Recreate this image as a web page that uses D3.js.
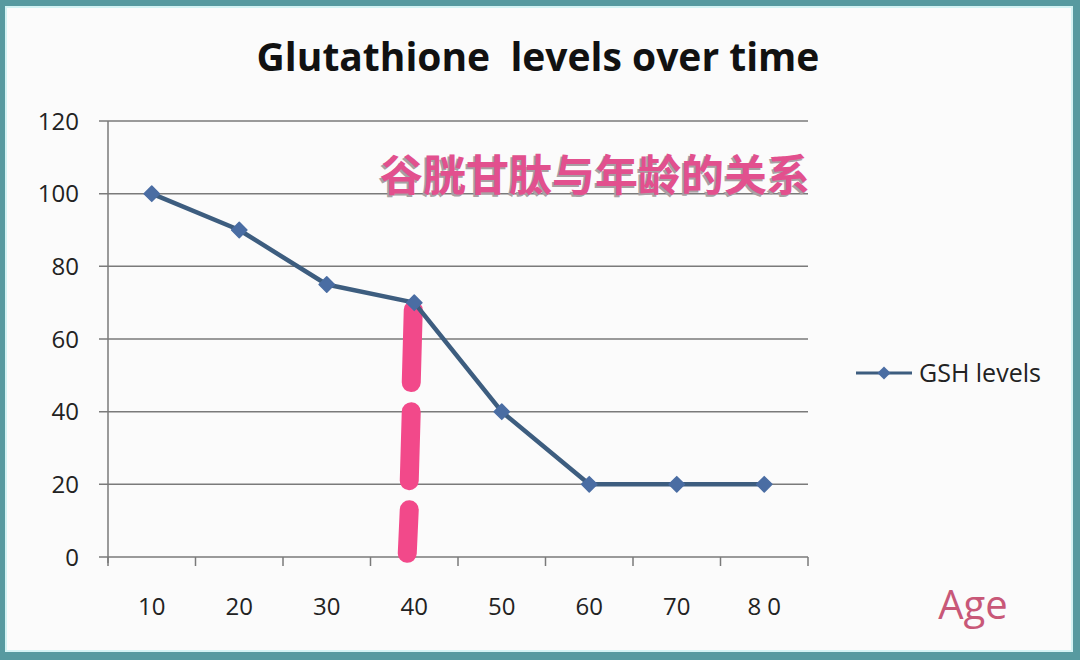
<!DOCTYPE html>
<html>
<head>
<meta charset="utf-8">
<script src="https://cdn.jsdelivr.net/npm/d3@7"></script>
<style>
  html, body { margin: 0; padding: 0; background: #fff; }
  svg { display: block; }
</style>
</head>
<body>
<div id="chart"></div>
<script>
// chart data
const ages = ["10", "20", "30", "40", "50", "60", "70", "80"];
const ageLabels = ["10", "20", "30", "40", "50", "60", "70", "8 0"];
const gshLevels = [100, 90, 75, 70, 40, 20, 20, 20];
const yTicks = [0, 20, 40, 60, 80, 100, 120];
// hand-drawn pink mark at age 40, segments in value units
const markAge = "40";
const markSegments = [[68, 48], [40, 21], [13, 1]];

const width = 1080, height = 660;
const margin = { top: 121, right: 272, bottom: 103, left: 108 };

const svg = d3.select("#chart")
    .append("svg")
    .attr("width", width)
    .attr("height", height);

// background + frame
svg.append("rect")
    .attr("x", 0).attr("y", 0)
    .attr("width", width).attr("height", height)
    .attr("fill", "#579aa0");
svg.append("rect")
    .attr("x", 5).attr("y", 6)
    .attr("width", width - 12).attr("height", height - 14)
    .attr("fill", "#d4f3f4");
svg.append("rect")
    .attr("x", 7).attr("y", 8)
    .attr("width", width - 16).attr("height", height - 18)
    .attr("fill", "#fbfbfb");

const x = d3.scaleBand()
    .domain(ages)
    .range([margin.left, width - margin.right]);

const y = d3.scaleLinear()
    .domain([0, 120])
    .range([height - margin.bottom, margin.top]);

// gridlines
svg.append("g")
    .selectAll("line")
    .data(yTicks)
    .enter()
    .append("line")
    .attr("x1", margin.left - 9)
    .attr("x2", width - margin.right)
    .attr("y1", d => y(d))
    .attr("y2", d => y(d))
    .attr("stroke", "#7a7a7a")
    .attr("stroke-width", 1.5);

// y labels
svg.append("g")
    .selectAll("text")
    .data(yTicks)
    .enter()
    .append("text")
    .attr("x", 79)
    .attr("y", d => y(d))
    .attr("dy", "0.36em")
    .attr("text-anchor", "end")
    .attr("font-family", "'Open Sans', sans-serif")
    .attr("font-size", 24)
    .attr("fill", "#222")
    .text(d => d);

// y axis line
svg.append("line")
    .attr("x1", margin.left).attr("x2", margin.left)
    .attr("y1", y(120)).attr("y2", y(0) + 6)
    .attr("stroke", "#7a7a7a")
    .attr("stroke-width", 1.5);

// x ticks at band boundaries
const bounds = ages.map(a => x(a)).concat([x(ages[ages.length - 1]) + x.bandwidth()]);
svg.append("g")
    .selectAll("line")
    .data(bounds)
    .enter()
    .append("line")
    .attr("x1", d => d).attr("x2", d => d)
    .attr("y1", y(0)).attr("y2", y(0) + 9)
    .attr("stroke", "#7a7a7a")
    .attr("stroke-width", 1.5);

// x labels
svg.append("g")
    .selectAll("text")
    .data(ages)
    .enter()
    .append("text")
    .attr("x", d => x(d) + x.bandwidth() / 2)
    .attr("y", 615)
    .attr("text-anchor", "middle")
    .attr("font-family", "'Open Sans', sans-serif")
    .attr("font-size", 24)
    .attr("fill", "#222")
    .text((d, i) => ageLabels[i]);

// pink annotation title
svg.append("text")
    .attr("x", 810)
    .attr("y", 191)
    .attr("text-anchor", "end")
    .attr("font-family", "'Noto Sans CJK SC', sans-serif")
    .attr("font-weight", "bold")
    .attr("font-size", 43)
    .attr("fill", "#a8a0a4")
    .attr("transform", "translate(-2,2)")
    .text("谷胱甘肽与年龄的关系");
svg.append("text")
    .attr("x", 810)
    .attr("y", 191)
    .attr("text-anchor", "end")
    .attr("font-family", "'Noto Sans CJK SC', sans-serif")
    .attr("font-weight", "bold")
    .attr("font-size", 43)
    .attr("fill", "#e2508e")
    .text("谷胱甘肽与年龄的关系");

// pink hand mark
const markX = x(markAge) + x.bandwidth() / 2 - 3;
svg.append("g")
    .selectAll("line")
    .data(markSegments)
    .enter()
    .append("line")
    .attr("x1", (d, i) => markX + 2 - i * 2)
    .attr("x2", (d, i) => markX - i * 2)
    .attr("y1", d => y(d[0]))
    .attr("y2", d => y(d[1]))
    .attr("stroke", "#f2498a")
    .attr("stroke-width", 19)
    .attr("stroke-linecap", "round");

// series line
const line = d3.line()
    .x((d, i) => x(ages[i]) + x.bandwidth() / 2)
    .y(d => y(d));

svg.append("path")
    .datum(gshLevels)
    .attr("d", line)
    .attr("fill", "none")
    .attr("stroke", "#3d5d7f")
    .attr("stroke-width", 4.5)
    .attr("stroke-linejoin", "round");

const diamond = d3.symbol().type(d3.symbolDiamond2).size(150);

svg.append("g")
    .selectAll("path")
    .data(gshLevels)
    .enter()
    .append("path")
    .attr("d", diamond)
    .attr("transform", (d, i) => "translate(" + (x(ages[i]) + x.bandwidth() / 2) + "," + y(d) + ")")
    .attr("fill", "#4a6da3")
    .attr("stroke", "#4a6da3")
    .attr("stroke-width", 1.5)
    .attr("stroke-linejoin", "round");

// legend
svg.append("line")
    .attr("x1", 856).attr("x2", 912)
    .attr("y1", 373).attr("y2", 373)
    .attr("stroke", "#3d5d7f")
    .attr("stroke-width", 3);
svg.append("path")
    .attr("d", d3.symbol().type(d3.symbolDiamond2).size(110))
    .attr("transform", "translate(884,373)")
    .attr("fill", "#4a6da3");
svg.append("text")
    .attr("x", 919)
    .attr("y", 373)
    .attr("dy", "0.36em")
    .attr("font-family", "'Open Sans', sans-serif")
    .attr("font-size", 25)
    .attr("fill", "#222")
    .text("GSH levels");

// title
svg.append("text")
    .attr("x", 538)
    .attr("y", 71)
    .attr("text-anchor", "middle")
    .attr("font-family", "'Open Sans', sans-serif")
    .attr("font-weight", "bold")
    .attr("font-size", 39)
    .attr("fill", "#111")
    .attr("xml:space", "preserve")
    .style("white-space", "pre")
    .text("Glutathione  levels over time");

// axis label
svg.append("text")
    .attr("x", 973)
    .attr("y", 619)
    .attr("text-anchor", "middle")
    .attr("font-family", "'Open Sans', sans-serif")
    .attr("font-size", 40)
    .attr("fill", "#c85878")
    .text("Age");
</script>
</body>
</html>
